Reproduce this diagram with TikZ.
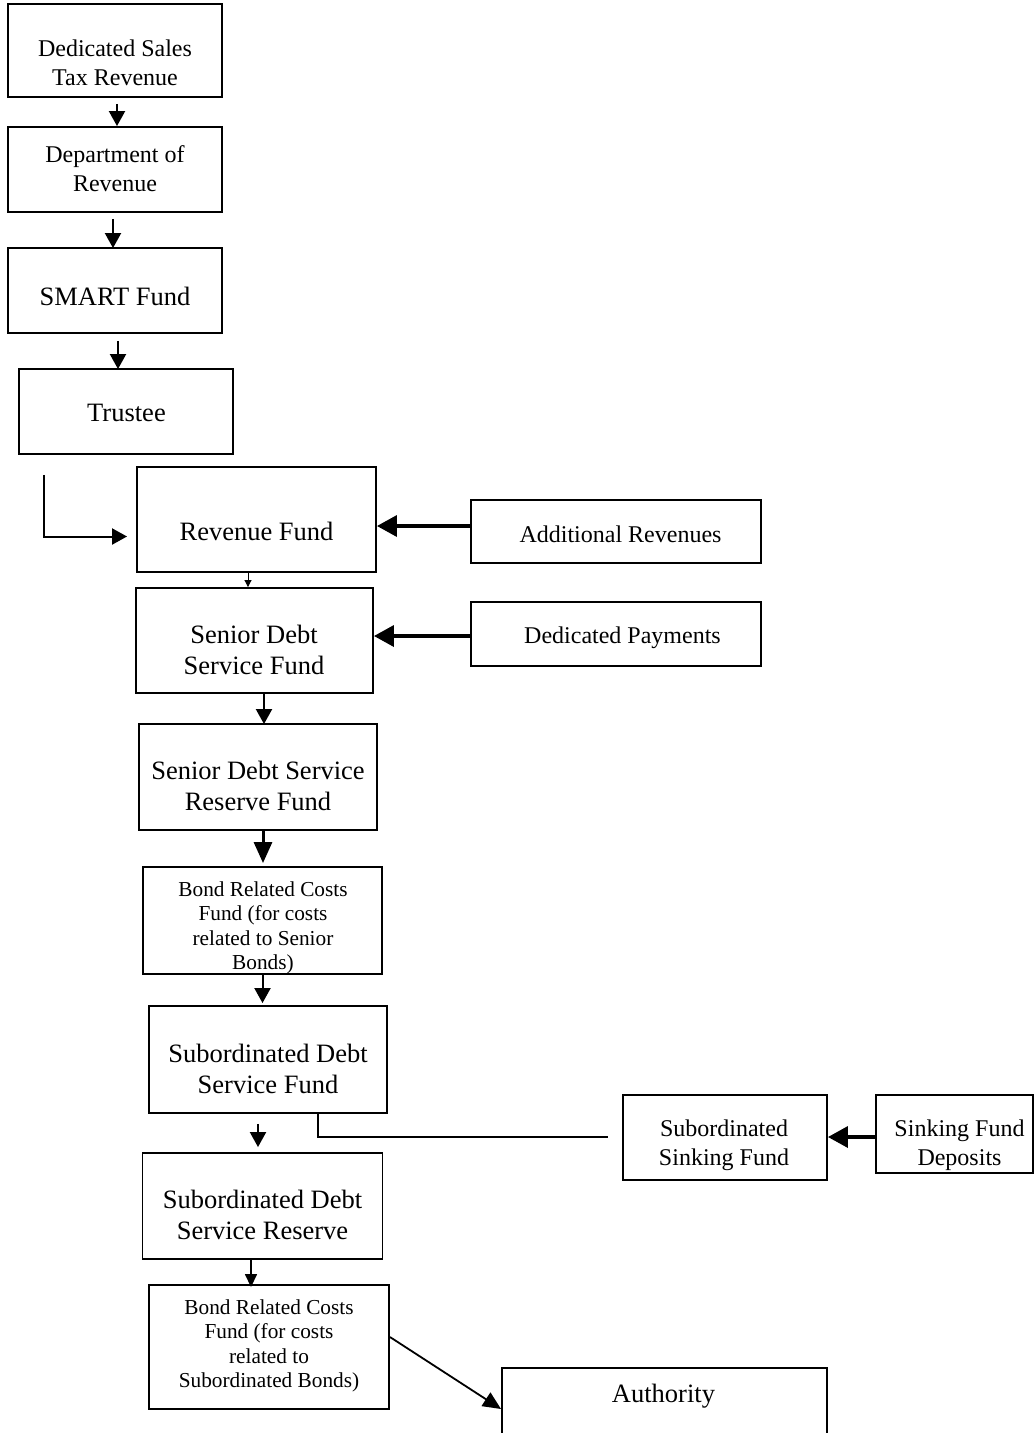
\documentclass[tikz,border=0pt]{standalone}
\usepackage{fontspec}
\setmainfont{Liberation Serif}
\usetikzlibrary{arrows.meta,calc}
\begin{document}
\begin{tikzpicture}[x=1pt,y=1pt,
  box/.style 2 args={draw, line width=1.9pt, inner sep=0pt, minimum width=#1, minimum height=#2},
  smalltxt/.style={font=\fontsize{24}{29}\selectfont, align=center, inner sep=0pt},
  bigtxt/.style={font=\fontsize{26.5}{31}\selectfont, align=center, inner sep=0pt},
  bondtxt/.style={font=\fontsize{21.3}{24.5}\selectfont, align=center, inner sep=0pt},
  arrA/.style={line width=2pt, -{Triangle[length=15pt,width=16pt]}},
  arrC/.style={line width=3.5pt, -{Triangle[length=20pt,width=21pt]}},
  arrD/.style={line width=3pt, -{Triangle[length=21pt,width=18pt]}},
  arrThin/.style={line width=0.9pt, -{Triangle[length=7pt,width=7pt]}},
  arrE/.style={line width=1.5pt, -{Triangle[length=13pt,width=12pt]}},
  arrF/.style={line width=1.8pt, -{Triangle[length=18pt,width=16pt]}},
  conn/.style={line width=1.8pt}
]
\path[use as bounding box] (0,0) rectangle (1034,-1433);
\clip (0,0) rectangle (1034,-1433);
\fill[white] (0,0) rectangle (1034,-1433);

% boxes
\node[box={214pt}{93pt}] (dstr) at (115,-50.5) {};
\node[box={214pt}{85pt}] (dor) at (115,-169.5) {};
\node[box={214pt}{85pt}] (smart) at (115,-290.5) {};
\node[box={214pt}{85pt}] (trustee) at (126,-411.5) {};
\node[box={239pt}{105pt}] (revfund) at (256.5,-519.5) {};
\node[box={290pt}{63pt}] (addrev) at (616,-531.5) {};
\node[box={237pt}{105pt}] (sdsf) at (254.5,-640.5) {};
\node[box={290pt}{64pt}] (dedpay) at (616,-634) {};
\node[box={238pt}{106pt}] (sdsrf) at (258,-777) {};
\node[box={239pt}{107pt}] (brc1) at (262.5,-920.5) {};
\node[box={238pt}{107pt}] (subdsf) at (268,-1059.5) {};
\node[box={204pt}{85pt}] (subsink) at (725,-1137.5) {};
\node[box={157pt}{78pt}] (sfd) at (954.5,-1134) {};
\node[box={240pt}{106pt}] (subdsr) at (262.5,-1206) {};
\node[box={240pt}{124pt}] (brc2) at (269,-1347) {};
\node[box={325pt}{200pt}, anchor=north] (auth) at (664.5,-1367) {};

% texts
\node[smalltxt] (dstrT) at (115,-63) {Dedicated Sales\\Tax Revenue};
\node[smalltxt] (dorT) at (115,-169) {Department of\\Revenue};
\node[bigtxt] (smartT) at (115,-296) {SMART Fund};
\node[bigtxt] (trusteeT) at (126.5,-413) {Trustee};
\node[bigtxt] (revT) at (256.5,-531) {Revenue Fund};
\node[smalltxt] (addrevT) at (620.5,-534) {Additional Revenues};
\node[bigtxt] (sdsfT) at (254,-650) {Senior Debt\\Service Fund};
\node[smalltxt] (dedpayT) at (622.5,-638) {Dedicated Payments};
\node[bigtxt] (sdsrfT) at (258,-786) {Senior Debt Service\\Reserve Fund};
\node[bondtxt] (brc1T) at (263,-928) {Bond Related Costs\\Fund (for costs\\related to Senior\\Bonds)};
\node[bigtxt] (subdsfT) at (268,-1069) {Subordinated Debt\\Service Fund};
\node[smalltxt] (subsinkT) at (724,-1145) {Subordinated\\Sinking Fund};
\node[smalltxt] (sfdT) at (959.5,-1145) {Sinking Fund\\Deposits};
\node[bigtxt] (subdsrT) at (262.5,-1215) {Subordinated Debt\\Service Reserve};
\node[bondtxt] (brc2T) at (269,-1346) {Bond Related Costs\\Fund (for costs\\related to\\Subordinated Bonds)};
\node[bigtxt] (authT) at (663.5,-1396) {Authority};

% connectors
\draw[arrA] ($(dstr.south)+(2,-6)$) coordinate (c1) -- (c1 |- dor.north);
\draw[arrA] ($(dor.south)+(-2,-6)$) coordinate (c2) -- ($(c2 |- smart.north)+(0,-1)$);
\draw[arrA] ($(smart.south)+(3,-7)$) coordinate (c3) -- ($(c3 |- trustee.north)+(0,-1)$);
\draw[arrA] ($(trustee.south west)+(26,-20)$) coordinate (c4) |- ($(revfund.west)+(-9,-17)$);
\draw[arrC] ($(addrev.west)+(0,5.5)$) coordinate (c5) -- (c5 -| revfund.east);
\draw[arrThin] ($(revfund.south)+(-8.5,0)$) coordinate (c6) -- (c6 |- sdsf.north);
\draw[arrC] ($(dedpay.west)+(0,-2)$) coordinate (c7) -- (c7 -| sdsf.east);
\draw[arrA] ($(sdsf.south)+(9.5,0)$) coordinate (c8) -- ($(c8 |- sdsrf.north)+(0,-1)$);
\draw[arrD] ($(sdsrf.south)+(5,0)$) coordinate (c9) -- ($(c9 |- brc1.north)+(0,3)$);
\draw[arrA] ($(brc1.south)+(0,0)$) coordinate (c10) -- ($(c10 |- subdsf.north)+(0,2)$);
\draw[arrA] ($(subdsf.south)+(-10,-10)$) coordinate (c11) -- ($(c11 |- subdsr.north)+(0,5)$);
\draw[conn] ($(subdsf.south)+(50,0)$) coordinate (c12) |- ($(subsink.west)+(-14,0.5)$);
\draw[arrC] ($(sfd.west)+(0,-3)$) coordinate (c13) -- (c13 -| subsink.east);
\draw[arrE] ($(subdsr.south)+(-11.5,0)$) coordinate (c14) -- ($(c14 |- brc2.north)+(0,-3)$);
\draw[arrF] ($(brc2.east)+(0,10)$) -- ($(auth.north west)+(0,-42)$);
\end{tikzpicture}
\end{document}
